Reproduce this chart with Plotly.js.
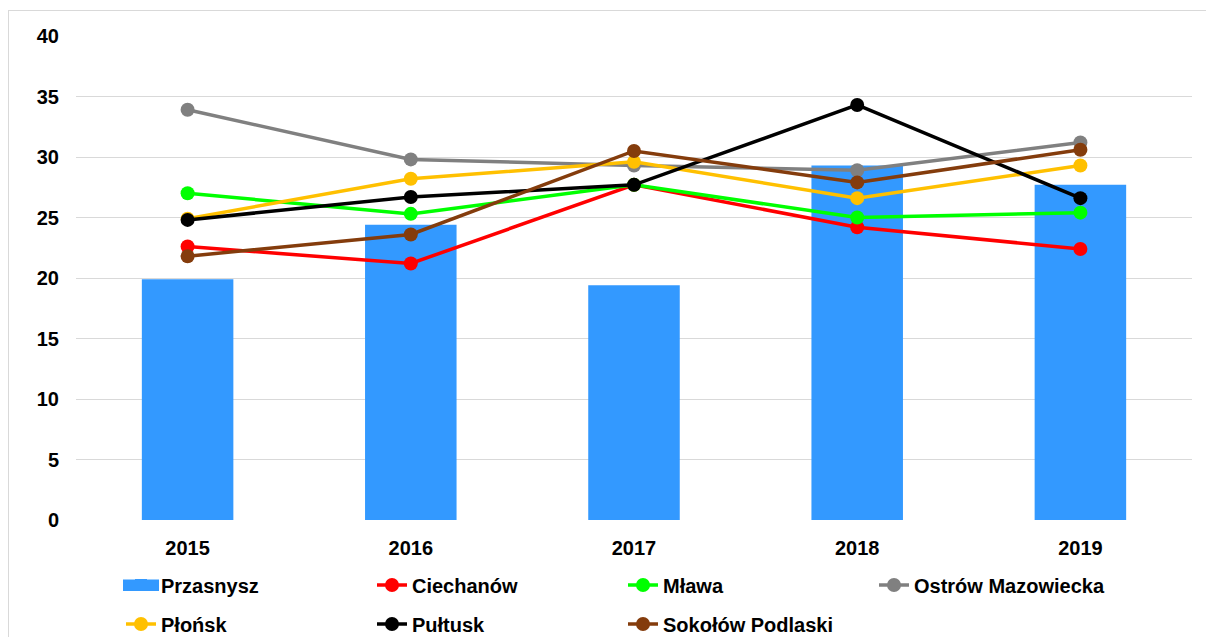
<!DOCTYPE html>
<html>
<head>
<meta charset="utf-8">
<script src="https://cdn.plot.ly/plotly-3.0.1.min.js"></script>
<style>
  html, body { margin: 0; padding: 0; background: #fff; }
  #wrap { position: relative; width: 1206px; height: 637px; overflow: hidden; }
  #chart { position: absolute; left: 0; top: 0; width: 1206px; height: 637px; }
  #frame { position: absolute; left: 8px; top: 10px; width: 1200px; height: 640px; border: 1px solid #d9d9d9; pointer-events: none; }
</style>
</head>
<body>
<div id="wrap">
  <div id="chart"></div>
  <div id="frame"></div>
</div>
<script>
const years = ['2015', '2016', '2017', '2018', '2019'];
const przasnysz = [19.9, 24.4, 19.4, 29.3, 27.7];
const ciechanow = [22.6, 21.2, 27.7, 24.2, 22.4];
const mlawa = [27.0, 25.3, 27.7, 25.0, 25.4];
const ostrow = [33.9, 29.8, 29.3, 28.9, 31.2];
const plonsk = [24.9, 28.2, 29.6, 26.6, 29.3];
const pultusk = [24.8, 26.7, 27.7, 34.3, 26.6];
const sokolow = [21.8, 23.6, 30.5, 27.9, 30.6];
const yTicks = [0, 5, 10, 15, 20, 25, 30, 35, 40];

const font = { family: 'Liberation Sans, Arial, sans-serif', size: 20, color: '#000', weight: 'bold' };
const barColor = '#3399ff';

function line(name, y, color, legend) {
  return {
    type: 'scatter', mode: 'lines+markers', name: name, x: years, y: y,
    line: { color: color, width: 3.5 },
    marker: { color: color, size: 14 },
    legend: legend
  };
}

const data = [
  { type: 'bar', name: 'Przasnysz', x: years, y: przasnysz, marker: { color: barColor }, legend: 'legend' },
  line('Ciechanów', ciechanow, '#ff0000', 'legend'),
  line('Mława', mlawa, '#00ff00', 'legend'),
  line('Ostrów Mazowiecka', ostrow, '#808080', 'legend'),
  line('Płońsk', plonsk, '#ffc000', 'legend2'),
  line('Pułtusk', pultusk, '#000000', 'legend2'),
  line('Sokołów Podlaski', sokolow, '#843c0c', 'legend2')
];

const legendCommon = {
  orientation: 'h', xref: 'container', yref: 'container',
  xanchor: 'left', yanchor: 'middle',
  font: font, entrywidth: 206, entrywidthmode: 'pixels',
  bgcolor: 'rgba(0,0,0,0)', itemclick: false, itemdoubleclick: false
};

// plot area in pixels: x 76..1192, y 36..520
const px = v => (v - 76) / 1116;
const py = v => (520 - v) / 484;

const layout = {
  width: 1206, height: 637,
  margin: { l: 76, r: 14, t: 36, b: 117 },
  paper_bgcolor: '#fff', plot_bgcolor: '#fff',
  font: font,
  bargap: 0.59,
  showlegend: true,
  xaxis: {
    type: 'category', tickfont: font, showgrid: false, zeroline: false,
    showline: false, ticks: '', ticklabelstandoff: 14
  },
  yaxis: {
    range: [0, 40], tickvals: yTicks, ticktext: yTicks.map(String), tickfont: font,
    showgrid: true, gridcolor: '#d9d9d9', gridwidth: 1, zeroline: false,
    showline: false, ticks: '', ticklabelstandoff: 16, fixedrange: true
  },
  legend: Object.assign({}, legendCommon, { x: 121 / 1206, y: 1 - 585 / 637 }),
  legend2: Object.assign({}, legendCommon, { x: 121 / 1206, y: 1 - 624 / 637 }),
  shapes: [{
    type: 'rect', xref: 'paper', yref: 'paper', layer: 'above',
    x0: px(123), x1: px(159), y0: py(579.5), y1: py(591),
    fillcolor: barColor, line: { width: 0 }
  }]
};

Plotly.newPlot('chart', data, layout, { displayModeBar: false, staticPlot: true });
</script>
</body>
</html>
